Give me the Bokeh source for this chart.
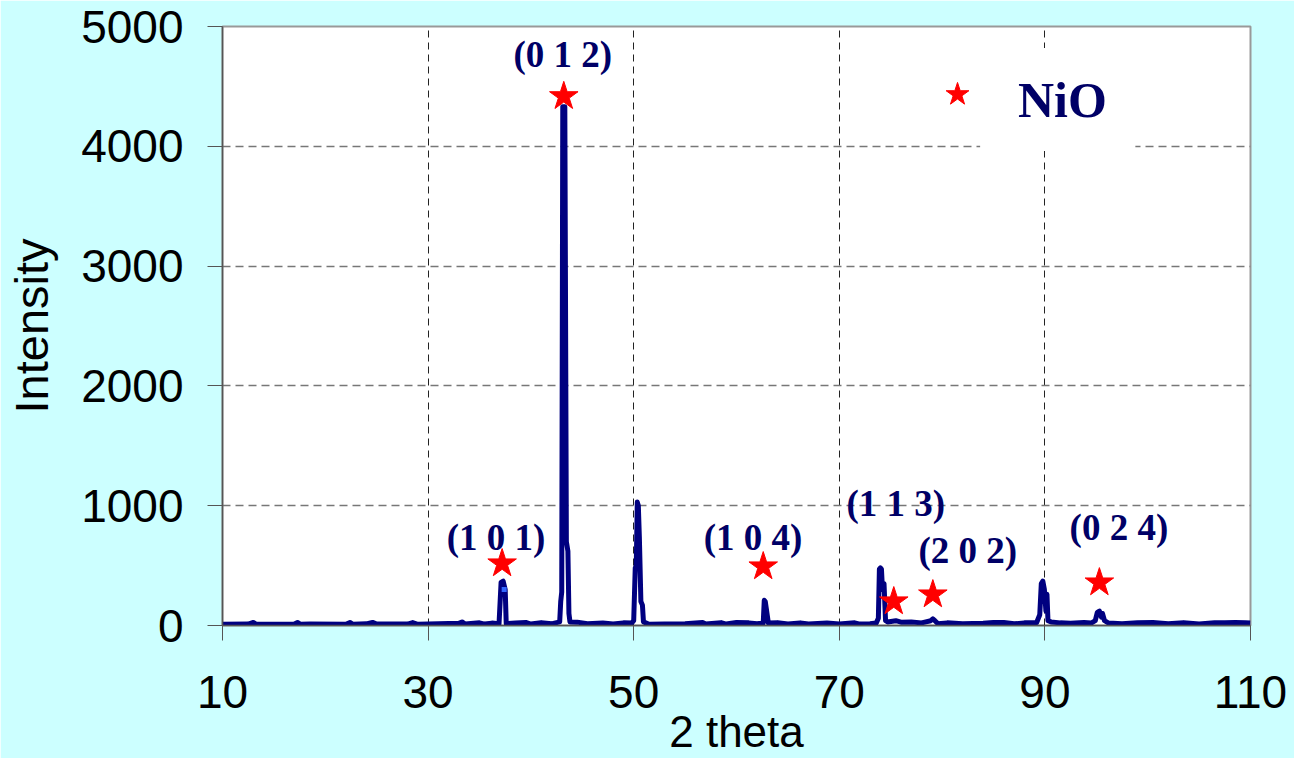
from bokeh.plotting import figure
from bokeh.models import ColumnDataSource, FixedTicker, Range1d
from bokeh.core.properties import value
from bokeh.embed import file_html
from bokeh.resources import INLINE

# ---- data ----
two_theta = [10.0, 12.5, 13.0, 13.3, 17.0, 17.3, 17.6, 18.5, 22.0, 22.4, 22.7, 24.0, 24.6, 25.0,
             28.0, 28.5, 29.0, 31.0, 33.0, 33.3, 33.6, 35.0, 35.5, 36.2, 36.9, 37.1, 37.3, 37.5,
             37.6, 38.5, 39.5, 40.0, 41.0, 42.0, 42.8, 42.9, 43.0, 43.1, 43.3, 43.45, 43.6, 43.7,
             43.8, 44.5, 45.5, 47.0, 48.0, 49.0, 49.8, 50.0, 50.15, 50.25, 50.35, 50.45, 50.55,
             50.7, 50.85, 50.95, 51.5, 53.0, 55.0, 56.7, 57.0, 58.5, 59.0, 60.0, 61.2, 62.0, 62.6,
             62.7, 62.8, 62.9, 63.0, 63.1, 64.0, 65.0, 66.2, 67.0, 68.8, 70.0, 71.5, 72.0, 73.0,
             73.6, 73.8, 73.9, 74.0, 74.1, 74.2, 74.35, 74.5, 74.7, 75.5, 76.0, 77.0, 78.0, 78.9,
             79.1, 79.3, 79.6, 80.5, 82.0, 84.0, 85.0, 86.0, 87.0, 88.0, 89.2, 89.5, 89.65, 89.8,
             89.95, 90.1, 90.2, 90.3, 90.6, 91.5, 92.5, 93.8, 94.5, 94.9, 95.1, 95.3, 95.5, 95.6,
             95.8, 96.2, 97.5, 99.0, 100.5, 102.0, 103.5, 105.0, 106.5, 107.5, 108.5, 109.5, 110.0]
intensity = [10, 12, 25, 10, 12, 25, 10, 12, 10, 25, 10, 14, 26, 12,
             12, 24, 10, 14, 18, 30, 12, 22, 12, 20, 15, 360, 370, 300,
             15, 20, 26, 12, 24, 14, 30, 200, 280, 4330, 4330, 700, 620, 100,
             30, 28, 14, 20, 12, 22, 20, 40, 480, 500, 1030, 1000, 740,
             200, 170, 30, 10, 12, 14, 26, 12, 24, 12, 26, 22, 14, 20,
             210, 200, 140, 80, 20, 24, 12, 22, 12, 20, 12, 22, 12, 14,
             22, 60, 470, 480, 470, 300, 350, 40, 30, 40, 28, 30, 22, 40,
             55, 40, 14, 22, 14, 18, 26, 26, 14, 22, 25, 90, 350, 370,
             300, 120, 260, 40, 30, 22, 18, 26, 20, 40, 110, 120, 70, 100,
             40, 20, 14, 22, 26, 14, 24, 12, 22, 24, 26, 22, 20]

star_x = [37.2, 43.2, 62.6, 75.3, 79.1, 95.3]
star_y = [517, 4417, 492, 200, 258, 358]

hkl_text = ["(1 0 1)", "(0 1 2)", "(1 0 4)", "(1 1 3)", "(2 0 2)", "(0 2 4)"]
hkl_x = [36.6, 43.1, 61.6, 75.5, 82.5, 97.2]
hkl_y = [733, 4767, 733, 1017, 625, 817]

legend_name = ["NiO"]
x_ticks = [10, 30, 50, 70, 90, 110]
y_ticks = [0, 1000, 2000, 3000, 4000, 5000]

NAVY = "#000080"
LABEL_NAVY = "#000066"

p = figure(width=1294, height=758, x_range=Range1d(10, 110), y_range=Range1d(0, 5000),
           output_backend="svg", toolbar_location=None,
           min_border_left=222, min_border_right=44, min_border_top=26, min_border_bottom=133)
p.border_fill_color = "#CCFFFF"
p.background_fill_color = "white"
p.outline_line_color = "#999999"
p.outline_line_width = 2

# grid
p.xgrid.grid_line_color = "#222222"
p.xgrid.grid_line_dash = "7 5"
p.xgrid.grid_line_width = 1
p.ygrid.grid_line_color = "#777777"
p.ygrid.grid_line_dash = "8 5"
p.ygrid.grid_line_width = 1.5

# axes
p.xaxis.ticker = FixedTicker(ticks=x_ticks)
p.yaxis.ticker = FixedTicker(ticks=y_ticks)
for ax in (p.xaxis[0], p.yaxis[0]):
    ax.major_tick_out = 15
    ax.major_tick_in = 0
    ax.minor_tick_line_color = None
    ax.major_tick_line_color = "#555555"
    ax.axis_line_color = "#555555"
    ax.axis_line_width = 1.5
    ax.major_label_text_color = "black"
    ax.axis_label_text_color = "black"
    ax.axis_label_text_font_style = "normal"

p.yaxis.major_label_text_font = "Liberation Sans"
p.yaxis.major_label_text_font_size = "46px"
p.yaxis.major_label_standoff = 24
p.yaxis.axis_label = "Intensity"
p.yaxis.axis_label_text_font = "Liberation Sans"
p.yaxis.axis_label_text_font_size = "47px"
p.yaxis.axis_label_standoff = 20

p.xaxis.major_label_text_font = "Liberation Sans"
p.xaxis.major_label_text_font_size = "46px"
p.xaxis.major_label_standoff = 35
p.xaxis.axis_label = "2 theta"
p.xaxis.axis_label_text_font = "Liberation Sans"
p.xaxis.axis_label_text_font_size = "44px"
p.xaxis.axis_label_standoff = -4

# legend box (white, no border)
p.quad(left=[83.7], right=[98.8], bottom=[3960], top=[4820], fill_color="white", line_color=None)

# data line
src = ColumnDataSource(dict(x=two_theta, y=intensity))
p.line("x", "y", source=src, line_color=NAVY, line_width=5, line_join="round")
p.scatter(x=[37.4], y=[300], marker="square", size=5, fill_color="#3366FF", line_color=None)

# stars
p.scatter(x=star_x, y=star_y, marker="star", size=30, fill_color="red", line_color="red")

# hkl labels
lab = ColumnDataSource(dict(x=hkl_x, y=hkl_y, t=hkl_text))
p.text(x="x", y="y", text="t", source=lab, text_font=value("Liberation Serif"),
       text_font_style="bold", text_font_size="37px", text_color=LABEL_NAVY,
       text_align="center", text_baseline="middle")

# legend
p.scatter(x=[81.5], y=[4433], marker="star", size=24, fill_color="red", line_color="red")
p.text(x=[91.7], y=[4383], text=legend_name, text_font=value("Liberation Serif"),
       text_font_style="bold", text_font_size="50px", text_color=LABEL_NAVY,
       text_align="center", text_baseline="middle")

open("out.html", "w").write(file_html(p, INLINE))
